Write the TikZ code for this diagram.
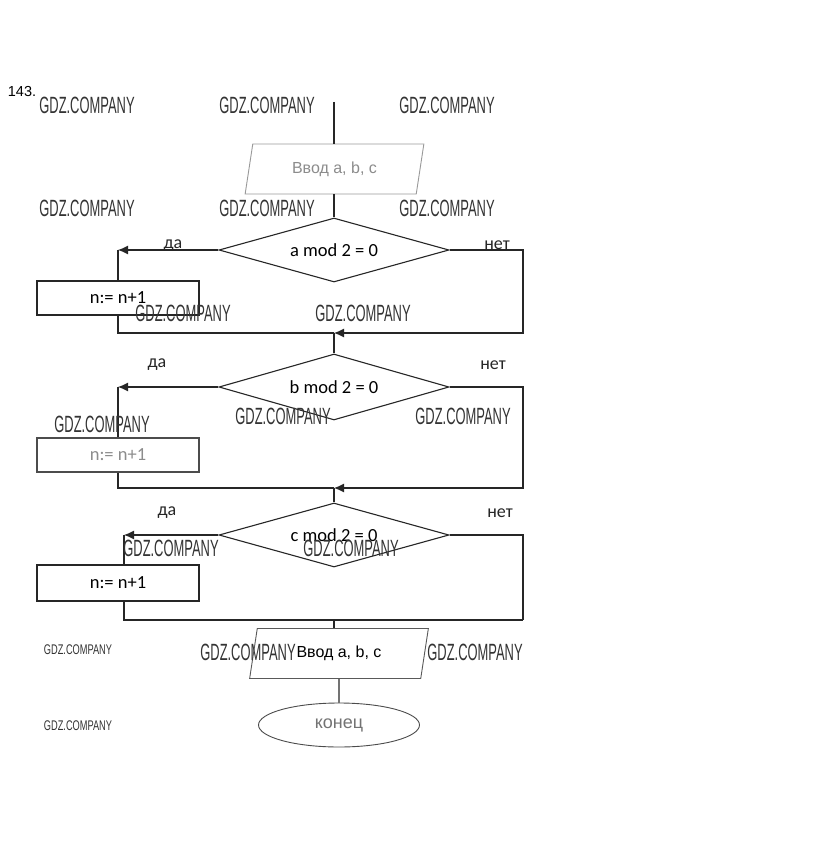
\documentclass[tikz,border=0pt]{standalone}
\usepackage{fontspec}
\setmainfont{Carlito}
\newfontfamily\arialf{Liberation Sans}
\usetikzlibrary{shapes.geometric,arrows.meta}
\newcommand\gdzmark{\scalebox{0.55}[1]{GDZ.COMPANY}}
\newcommand\gdzsmall{\scalebox{0.66}[1]{GDZ.COMPANY}}
\begin{document}
\begin{tikzpicture}[x=1pt,y=-1pt,
  line/.style={draw=black!85, line width=1.1pt},
  arr/.style={line, -{Latex[length=10pt,width=9pt]}},
  cond/.style={diamond, aspect=3.6, draw=black!85, line width=1.1pt, minimum width=230pt,
    minimum height=64pt, inner sep=0pt, font=\fontsize{18.5}{21}\selectfont},
  proc/.style={rectangle, draw=black!85, line width=1.1pt, minimum width=162pt,
    minimum height=34pt, inner sep=0pt, font=\fontsize{18.5}{21}\selectfont},
  io/.style={trapezium, trapezium left angle=75, trapezium right angle=105,
    trapezium stretches=true, minimum width=180pt, minimum height=50pt,
    inner sep=0pt, line width=0.9pt, font=\arialf\fontsize{16}{19}\selectfont},
  term/.style={ellipse, minimum width=161pt, minimum height=44pt, inner sep=0pt,
    line width=0.9pt, font=\arialf\fontsize{18}{20}\selectfont},
  lbl/.style={inner sep=0pt, text=black!85, font=\fontsize{18}{20}\selectfont},
  wm/.style={inner sep=0pt, text=black!80, font=\arialf\fontsize{23.5}{26}\selectfont},
  wms/.style={inner sep=0pt, text=black!80, font=\arialf\fontsize{14}{16}\selectfont},
  num/.style={inner sep=0pt, font=\arialf\fontsize{14.5}{16}\selectfont}
]
\useasboundingbox (0,0) rectangle (823,853);
\fill[white] (0,0) rectangle (823,853);

% number
\node[num] (no) at (22,92) {143.};

% flowchart nodes
\coordinate (start) at (334,102);
\node[io, draw=black!40, text=black!45] (P1) at (334.5,169) {Ввод a, b, c};
\node[cond] (D1) at (334,250) {a mod 2 = 0};
\node[proc] (B1) at (118,298) {n:= n+1};
\coordinate (J1) at (334,333);
\coordinate (R1) at (523,333);

\node[cond, minimum height=66pt] (D2) at (334,387) {b mod 2 = 0};
\node[proc, draw=black!70, text=black!45] (B2) at (118,455) {n:= n+1};
\coordinate (J2) at (334,488);
\coordinate (R2) at (523,488);

\node[cond] (D3) at (334,535) {c mod 2 = 0};
\node[proc, minimum height=36pt] (B3) at (118,583) {n:= n+1};
\coordinate (Y3) at (124,535);
\coordinate (J3) at (334,620);
\coordinate (R3) at (523,620);

\node[io, draw=black!65] (P2) at (339,653.5) {Ввод a, b, c};
\node[term, draw=black!70, text=black!55] (E) at (339,725) {конец};

% connectors
\draw[line] (start) -- (start |- P1.north);
\draw[line] (D1.north |- P1.south) -- (D1.north);

\draw[arr] (D1.west) -- (B1.north |- D1.west);
\draw[line] (B1.north |- D1.west) -- (B1.north);
\draw[line] (B1.south) |- (J1);
\draw[arr] (D1.east) -| (R1) -- (J1);
\draw[line] (J1) -- (D2.north);

\draw[arr] (D2.west) -- (B2.north |- D2.west);
\draw[line] (B2.north |- D2.west) -- (B2.north);
\draw[line] (B2.south) |- (J2);
\draw[arr] (D2.east) -| (R2) -- (J2);
\draw[line] (J2) -- (D3.north);

\draw[arr] (D3.west) -- (Y3);
\draw[line] (Y3) -- (Y3 |- B3.north);
\draw[line] (Y3 |- B3.south) |- (R3);
\draw[line] (D3.east) -| (R3);
\draw[line] (J3) -- (J3 |- P2.north);

\draw[line, draw=black!55] (E.north |- P2.south) -- (E.north);

% branch labels
\node[lbl] (y1) at (173,246) {да};
\node[lbl] (n1) at (497,245) {нет};
\node[lbl] (y2) at (157,365) {да};
\node[lbl] (n2) at (493,365) {нет};
\node[lbl] (y3) at (167,513) {да};
\node[lbl] (n3) at (500,513) {нет};

% watermarks
\node[wm] (w1) at (87,105) {\gdzmark};
\node[wm] (w2) at (267,105) {\gdzmark};
\node[wm] (w3) at (447,105) {\gdzmark};
\node[wm] (w4) at (87,208) {\gdzmark};
\node[wm] (w5) at (267,208) {\gdzmark};
\node[wm] (w6) at (447,208) {\gdzmark};
\node[wm] (w7) at (183,313) {\gdzmark};
\node[wm] (w8) at (363,313) {\gdzmark};
\node[wm] (w9) at (102,424) {\gdzmark};
\node[wm] (w10) at (283,416) {\gdzmark};
\node[wm] (w11) at (463,416) {\gdzmark};
\node[wm] (w12) at (171,548) {\gdzmark};
\node[wm] (w13) at (351,548) {\gdzmark};
\node[wm] (w14) at (248,652) {\gdzmark};
\node[wm] (w15) at (475,652) {\gdzmark};
\node[wms] (w16) at (78,650) {\gdzsmall};
\node[wms] (w17) at (78,726) {\gdzsmall};
\end{tikzpicture}
\end{document}
